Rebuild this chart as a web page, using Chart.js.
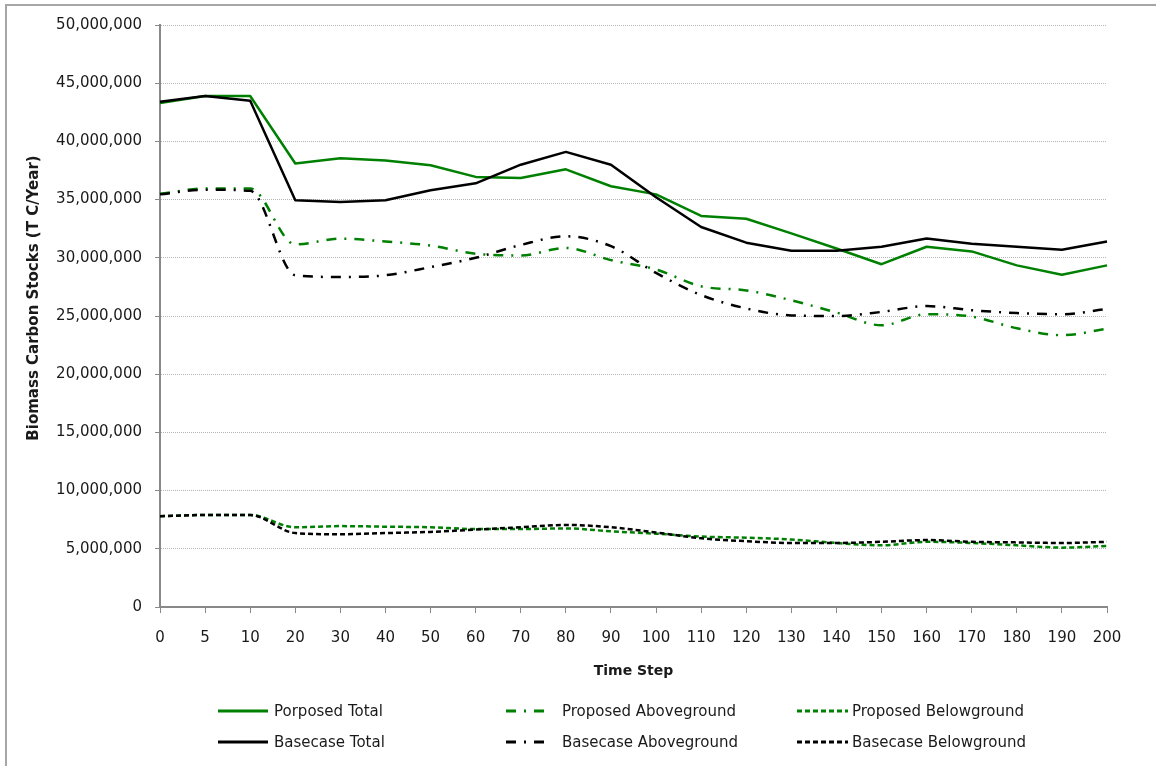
<!DOCTYPE html>
<html><head><meta charset="utf-8">
<script src="https://cdn.jsdelivr.net/npm/chart.js@4.4.1/dist/chart.umd.min.js"></script>
<style>
html,body{margin:0;padding:0;background:#fff;overflow:hidden}
#wrap{position:relative;width:1156px;height:766px;overflow:hidden}
#frame{position:absolute;left:5px;top:4px;width:1200px;height:800px;border-left:2px solid #a6a6a6;border-top:2px solid #a6a6a6;pointer-events:none}
canvas{position:absolute;left:0;top:0}
.li{position:absolute;height:20px;display:flex;align-items:center;font:15px "DejaVu Sans";color:#1a1a1a;white-space:nowrap}
.li svg{display:block}
</style></head><body>
<div id="wrap"><div id="frame"></div><canvas id="c" width="1156" height="766"></canvas><div id="legend"></div></div>
<script>
const categories = ['0','5','10','20','30','40','50','60','70','80','90','100','110','120','130','140','150','160','170','180','190','200'];
const proposedTotal = [43300000, 43900000, 43900000, 38100000, 38550000, 38350000, 37950000, 36950000, 36850000, 37600000, 36150000, 35450000, 33600000, 33350000, 32100000, 30800000, 29450000, 30950000, 30550000, 29350000, 28550000, 29350000];
const proposedAbove = [35500000, 35950000, 35950000, 31150000, 31650000, 31400000, 31050000, 30350000, 30200000, 30850000, 29800000, 29000000, 27550000, 27200000, 26350000, 25300000, 24200000, 25150000, 24950000, 23950000, 23350000, 23900000];
const proposedBelow = [7800000, 7900000, 7900000, 6850000, 6950000, 6900000, 6850000, 6700000, 6700000, 6750000, 6500000, 6300000, 6050000, 5950000, 5800000, 5500000, 5300000, 5600000, 5500000, 5300000, 5100000, 5250000];
const basecaseTotal = [43400000, 43900000, 43500000, 34950000, 34800000, 34950000, 35800000, 36400000, 38000000, 39100000, 38000000, 35200000, 32650000, 31300000, 30600000, 30600000, 30950000, 31650000, 31200000, 30950000, 30700000, 31400000];
const basecaseAbove = [35450000, 35850000, 35750000, 28500000, 28350000, 28500000, 29200000, 30000000, 31100000, 31850000, 31000000, 28700000, 26800000, 25650000, 25050000, 25000000, 25350000, 25850000, 25500000, 25250000, 25150000, 25600000];
const basecaseBelow = [7800000, 7900000, 7900000, 6350000, 6250000, 6350000, 6450000, 6650000, 6850000, 7050000, 6850000, 6400000, 5900000, 5650000, 5500000, 5500000, 5600000, 5750000, 5600000, 5550000, 5500000, 5600000];
const seriesNames = ['Porposed Total','Proposed Aboveground','Proposed Belowground','Basecase Total','Basecase Aboveground','Basecase Belowground'];
const yTicks = [0,5000000,10000000,15000000,20000000,25000000,30000000,35000000,40000000,45000000,50000000];
const xTitle = 'Time Step';
const yTitle = 'Biomass Carbon Stocks (T C/Year)';

const GREEN = '#008000', BLACK = '#000000';
const DASHDOT = [10,8,2,8], DASHED = [5,3];
Chart.defaults.font.family = '"DejaVu Sans", sans-serif';
Chart.defaults.font.size = 15;
Chart.defaults.color = '#1a1a1a';

function ds(label, data, color, dash, smooth, order){
  return {label, data, borderColor:color, backgroundColor:color, borderDash:dash, borderWidth:2.5,
    pointRadius:0, pointHoverRadius:0, tension: smooth ? 0.4 : 0,
    cubicInterpolationMode: smooth ? 'monotone' : 'default',
    fill:false, order, borderCapStyle:'butt', borderJoinStyle:'round'};
}
const datasets = [
  ds(seriesNames[0], proposedTotal, GREEN, [], false, 1),
  ds(seriesNames[1], proposedAbove, GREEN, DASHDOT, true, 1),
  ds(seriesNames[2], proposedBelow, GREEN, DASHED, true, 1),
  ds(seriesNames[3], basecaseTotal, BLACK, [], false, 0),
  ds(seriesNames[4], basecaseAbove, BLACK, DASHDOT, true, 0),
  ds(seriesNames[5], basecaseBelow, BLACK, DASHED, true, 0)
];

const yTitlePlugin = {
  id:'yTitle',
  afterDraw(chart){
    const ctx = chart.ctx;
    ctx.save();
    ctx.translate(34, 298);
    ctx.rotate(-Math.PI/2);
    ctx.font = 'bold 15px "DejaVu Sans"';
    ctx.fillStyle = '#1a1a1a';
    ctx.textAlign = 'center';
    ctx.textBaseline = 'middle';
    ctx.fillText(yTitle, 0, 0);
    ctx.restore();
  }
};

const chart = new Chart(document.getElementById('c'), {
  type:'line',
  data:{labels:categories, datasets},
  options:{
    responsive:false, animation:false, devicePixelRatio:1,
    layout:{padding:{left:0, top:25, right:49, bottom:86}},
    plugins:{legend:{display:false}, tooltip:{enabled:false}, title:{display:false}},
    scales:{
      x:{
        type:'category', offset:false,
        grid:{drawOnChartArea:false, drawTicks:true, tickLength:6, tickColor:'#898989', tickWidth:1},
        border:{display:true, color:'#898989', width:2},
        ticks:{padding:16, maxRotation:0, autoSkip:false, color:'#1a1a1a'},
        title:{display:true, text:xTitle, font:{weight:'bold', size:14}, padding:{top:0,bottom:0}, color:'#1a1a1a'},
        afterFit(s){ s.height = 73; }
      },
      y:{
        min:0, max:50000000,
        afterBuildTicks(s){ s.ticks = yTicks.map(v=>({value:v})); },
        grid:{drawOnChartArea:true, color:'#b4b4b4', lineWidth:1, drawTicks:true, tickLength:5, tickColor:'#898989', tickWidth:1},
        border:{display:true, color:'#898989', width:2, dash:[1,1]},
        ticks:{padding:13, color:'#1a1a1a', callback:(v)=>Number(v).toLocaleString('en-US')},
        afterFit(s){ s.width = 160; }
      }
    }
  },
  plugins:[yTitlePlugin]
});

// HTML legend built from the chart datasets (3 columns x 2 rows, like the original)
const legendCols = [{sx:218, sw:50, gap:6},{sx:506, sw:42, gap:14},{sx:797, sw:51, gap:4}];
const legendRows = [711, 742];
const leg = document.getElementById('legend');
chart.data.datasets.forEach((d, i) => {
  const col = legendCols[i % 3], rowY = legendRows[Math.floor(i / 3)];
  const el = document.createElement('div');
  el.className = 'li';
  el.style.left = col.sx + 'px';
  el.style.top = (rowY - 10) + 'px';
  const dash = (d.borderDash && d.borderDash.length) ? ` stroke-dasharray="${d.borderDash.join(',')}"` : '';
  el.innerHTML = `<svg width="${col.sw}" height="6"><line x1="0" y1="3" x2="${col.sw}" y2="3" stroke="${d.borderColor}" stroke-width="3"${dash}/></svg><span style="margin-left:${col.gap}px">${d.label}</span>`;
  leg.appendChild(el);
});
</script>
</body></html>
